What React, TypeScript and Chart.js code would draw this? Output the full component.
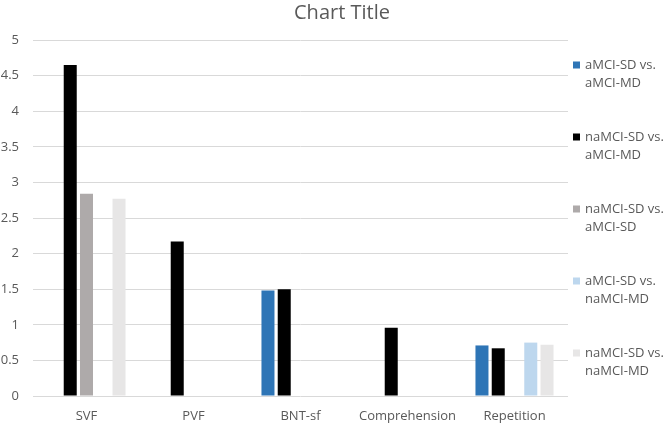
import React, { useEffect, useRef } from "react";
import { Chart, registerables } from "chart.js";

Chart.register(...registerables);

const categories = ["SVF", "PVF", "BNT-sf", "Comprehension", "Repetition"];
const seriesNames = [
  ["aMCI-SD vs.", "aMCI-MD"],
  ["naMCI-SD vs.", "aMCI-MD"],
  ["naMCI-SD vs.", "aMCI-SD"],
  ["aMCI-SD vs.", "naMCI-MD"],
  ["naMCI-SD vs.", "naMCI-MD"],
];
const aSDvsaMD = [null, null, 1.48, null, 0.71];
const naSDvsaMD = [4.65, 2.17, 1.5, 0.96, 0.67];
const naSDvsaSD = [2.84, null, null, null, null];
const aSDvsnaMD = [null, null, null, null, 0.75];
const naSDvsnaMD = [2.77, null, null, null, 0.72];
const seriesValues = [aSDvsaMD, naSDvsaMD, naSDvsaSD, aSDvsnaMD, naSDvsnaMD];
const colors = ["#2e75b6", "#000000", "#aeaaaa", "#bdd7ee", "#e7e6e6"];
const yTicks = [0, 0.5, 1, 1.5, 2, 2.5, 3, 3.5, 4, 4.5, 5];
const title = "Chart Title";

const FONT = "'Open Sans', sans-serif";
const TEXT = "#595959";

const overlayPlugin = {
  id: "overlay",
  afterDraw(chart: any) {
    const ctx = chart.ctx;
    ctx.save();
    ctx.fillStyle = TEXT;
    ctx.font = `20px ${FONT}`;
    ctx.textAlign = "center";
    ctx.textBaseline = "middle";
    ctx.fillText(title, 342, 13);
    ctx.font = `13px ${FONT}`;
    ctx.textAlign = "left";
    seriesNames.forEach((lines, i) => {
      const y = 65 + i * 72;
      ctx.fillStyle = colors[i];
      ctx.fillRect(573, y - 3.5, 7, 7);
      ctx.fillStyle = TEXT;
      lines.forEach((t, j) => ctx.fillText(t, 585, y + j * 18));
    });
    ctx.restore();
  },
};

export default function App() {
  const ref = useRef<HTMLCanvasElement>(null);
  useEffect(() => {
    if (!ref.current) return;
    const chart = new Chart(ref.current, {
      type: "bar",
      data: {
        labels: categories,
        datasets: seriesValues.map((d, i) => ({
          label: seriesNames[i].join(" "),
          data: d as any,
          backgroundColor: colors[i],
          borderWidth: 0,
          categoryPercentage: 0.76,
          barPercentage: 0.8,
        })),
      },
      options: {
        responsive: false,
        animation: false,
        layout: { padding: { top: 40, right: 98, bottom: 1, left: 0 } },
        plugins: {
          legend: { display: false },
          title: { display: false },
          tooltip: { enabled: false },
        },
        scales: {
          x: {
            afterFit: (s: any) => {
              s.height = 27;
            },
            grid: { display: false, drawTicks: false },
            border: { display: false },
            ticks: { color: TEXT, font: { family: FONT, size: 13 }, padding: 12, maxRotation: 0, autoSkip: false },
          },
          y: {
            min: 0,
            max: 5,
            afterBuildTicks: (s: any) => {
              s.ticks = yTicks.map((v) => ({ value: v }));
            },
            afterFit: (s: any) => {
              s.width = 33;
            },
            grid: { color: "#d9d9d9", drawTicks: false, lineWidth: 1 },
            border: { display: false },
            ticks: {
              color: TEXT,
              font: { family: FONT, size: 13 },
              padding: 14,
              callback: (v: any) => String(v),
            },
          },
        },
      },
      plugins: [overlayPlugin],
    });
    return () => chart.destroy();
  }, []);
  return (
    <div style={{ position: "fixed", left: 0, top: 0, width: 666, height: 424, background: "#fff" }}>
      <canvas ref={ref} width={666} height={424} />
    </div>
  );
}
